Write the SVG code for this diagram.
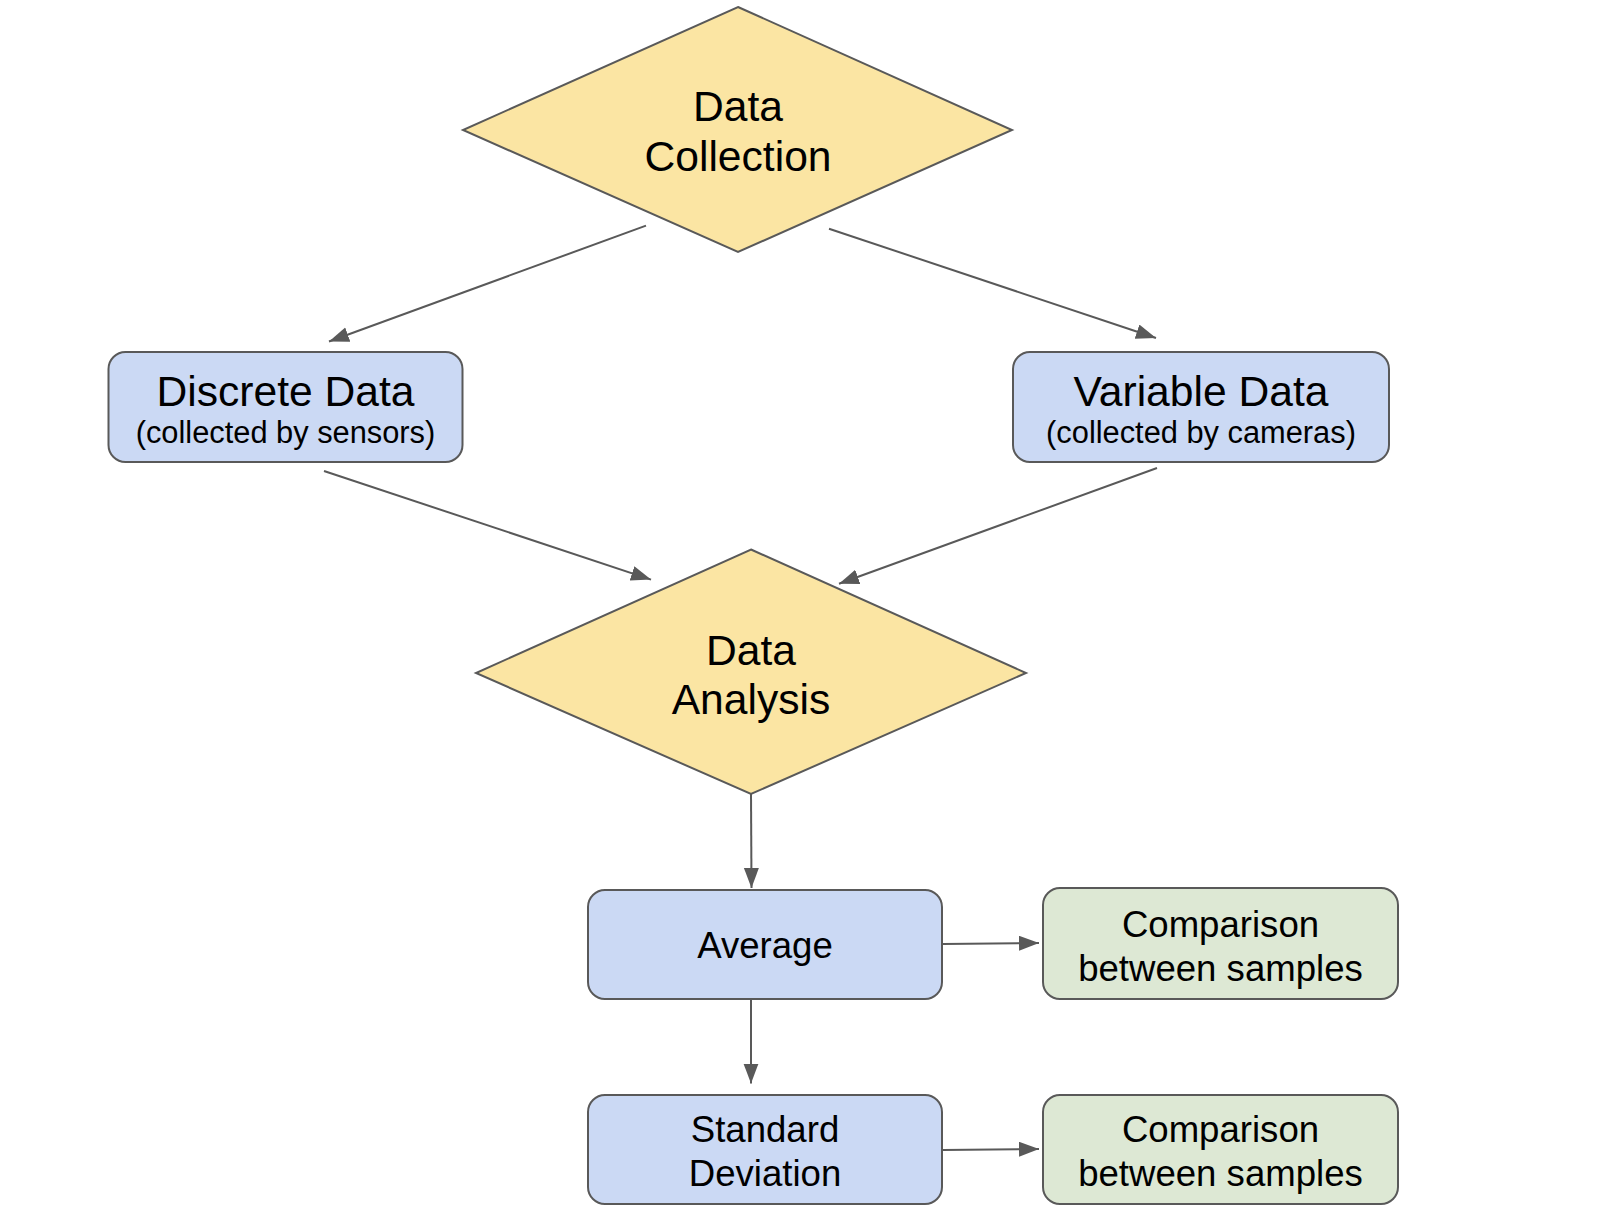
<svg xmlns="http://www.w3.org/2000/svg" width="1622" height="1224" viewBox="0 0 1622 1224">
<defs>
<style>
.dia{fill:#fbe5a3;stroke:#595959;stroke-width:2}
.blue{fill:#cbd9f4;stroke:#595959;stroke-width:2}
.green{fill:#dde8d4;stroke:#595959;stroke-width:2}
text{font-family:"Liberation Sans",Arial,sans-serif;fill:#000;text-anchor:middle}
.t42{font-size:42.6px}
.t31{font-size:30.8px}
.t36{font-size:36.6px}
.conn line{stroke:#595959;stroke-width:2;fill:none;marker-end:url(#arr)}
</style>
<marker id="arr" markerUnits="userSpaceOnUse" markerWidth="22" markerHeight="16" refX="20" refY="7.5" orient="auto" viewBox="0 0 22 16">
<path d="M0,0 L20,7.5 L0,15 z" fill="#595959"/>
</marker>
</defs>
<rect width="1622" height="1224" fill="#ffffff"/>
<g id="connectors" class="conn">
<line x1="646" y1="225.6" x2="329" y2="341.5"/>
<line x1="829" y1="228.7" x2="1156" y2="338"/>
<line x1="324" y1="471" x2="651" y2="579.6"/>
<line x1="1157" y1="468" x2="839" y2="583.7"/>
<line x1="751" y1="794" x2="751.5" y2="888"/>
<line x1="751" y1="1000" x2="751" y2="1083.6"/>
<line x1="943" y1="944" x2="1039" y2="943"/>
<line x1="943" y1="1150" x2="1039" y2="1149"/>
</g>
<g id="data-collection">
<polygon class="dia" points="738,7 1012,130 738,252 463,130"/>
<text class="t42" x="738" y="121">Data</text>
<text class="t42" x="738" y="171">Collection</text>
</g>
<g id="discrete-data">
<rect class="blue" x="108.5" y="352" width="354" height="110" rx="17"/>
<text class="t42" x="285.5" y="405.5">Discrete Data</text>
<text class="t31" x="285.5" y="443">(collected by sensors)</text>
</g>
<g id="variable-data">
<rect class="blue" x="1013" y="352" width="376" height="110" rx="17"/>
<text class="t42" x="1201" y="405.5">Variable Data</text>
<text class="t31" x="1201" y="443">(collected by cameras)</text>
</g>
<g id="data-analysis">
<polygon class="dia" points="751,549.5 1026,673 751,794 476,673"/>
<text class="t42" x="751" y="664.5">Data</text>
<text class="t42" x="751" y="714">Analysis</text>
</g>
<g id="average">
<rect class="blue" x="588" y="890" width="354" height="109" rx="17"/>
<text class="t36" x="765" y="958">Average</text>
</g>
<g id="comparison-1">
<rect class="green" x="1043" y="888" width="355" height="111" rx="17"/>
<text class="t36" x="1220.5" y="936.5">Comparison</text>
<text class="t36" x="1220.5" y="980.5">between samples</text>
</g>
<g id="standard-deviation">
<rect class="blue" x="588" y="1095" width="354" height="109" rx="17"/>
<text class="t36" x="765" y="1141.5">Standard</text>
<text class="t36" x="765" y="1185.5">Deviation</text>
</g>
<g id="comparison-2">
<rect class="green" x="1043" y="1095" width="355" height="109" rx="17"/>
<text class="t36" x="1220.5" y="1141.5">Comparison</text>
<text class="t36" x="1220.5" y="1185.5">between samples</text>
</g>
</svg>
